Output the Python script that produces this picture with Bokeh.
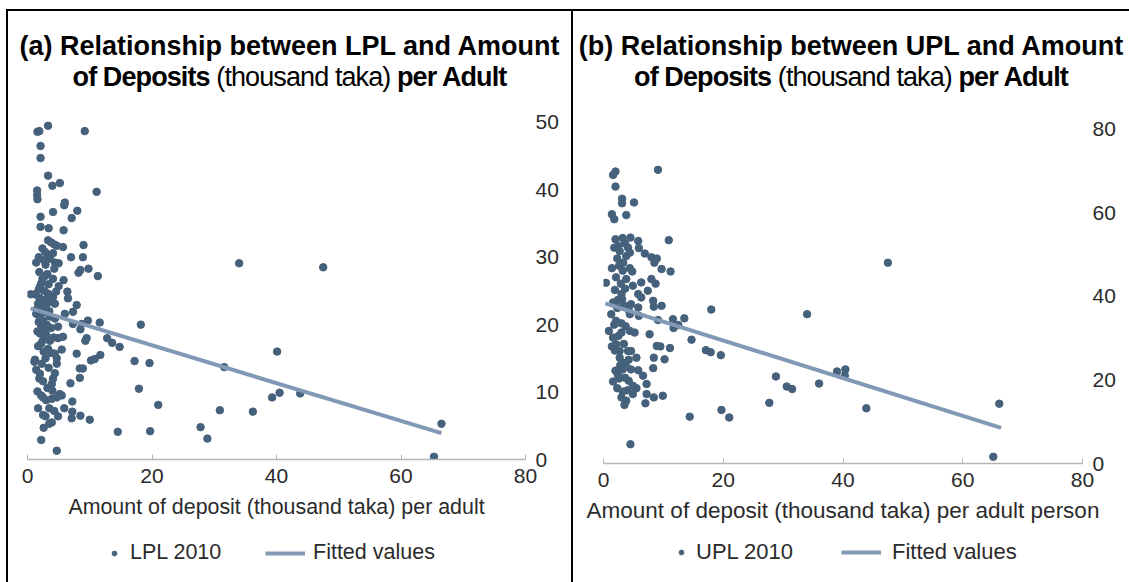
from bokeh.plotting import figure
from bokeh.models import Div, Legend, LegendItem, FixedTicker, Range1d, ColumnDataSource
from bokeh.layouts import row, column
from bokeh.embed import file_html
from bokeh.resources import INLINE

# ---------------- data ----------------
lpl_x = [3.3, 1.6, 1.9, 9.2, 2.1, 2.1, 3.3, 4.0, 5.2, 11.1, 1.55, 1.55, 1.6, 6.0, 5.9, 8.0, 4.1, 2.1, 7.1, 2.1,
         3.4, 5.8, 3.3, 3.8, 4.3, 4.7, 9.0, 5.7, 2.4, 2.8, 3.3, 4.1, 7.0, 8.9, 1.4, 2.9, 4.4, 5.0, 4.3, 8.5,
         8.2, 9.8, 11.3, 2.8, 4.1, 5.8, 2.2, 2.0, 1.8, 5.0, 4.6, 6.4, 6.5, 0.5, 1.2, 4.1, 3.8, 4.4, 1.7, 2.1,
         2.5, 3.0, 7.9, 7.3, 6.0, 1.4, 2.0, 2.5, 2.2, 2.8, 3.6, 4.4, 4.9, 7.3, 8.7, 9.7, 8.5, 11.6, 18.2, 2.0,
         2.5, 2.2, 4.2, 4.9, 5.7, 9.5, 9.3, 12.8, 13.6, 14.8, 3.3, 4.4, 5.5, 7.9, 10.2, 10.8, 11.7, 1.2, 1.1, 2.9,
         4.7, 4.7, 17.2, 19.6, 40.1, 1.4, 2.0, 2.5, 4.4, 4.1, 3.9, 8.4, 8.9, 8.4, 6.9, 31.6, 17.9, 1.6, 2.5, 3.0,
         3.9, 4.7, 5.5, 5.2, 7.2, 5.9, 7.2, 8.5, 1.7, 2.5, 2.9, 4.9, 3.9, 3.5, 7.1, 10.0, 21.0, 30.9, 36.2, 39.3,
         40.5, 2.6, 14.5, 19.7, 27.8, 28.9, 2.2, 4.7, 34.0, 47.5, 43.8, 65.3, 66.5,
         1.8, 2.6, 3.6, 1.9, 3.2, 2.4, 3.4, 2.7, 3.3, 1.9, 2.9, 1.5, 3.5, 2.6, 1.8, 3.1, 3.8, 1.6, 3.0, 3.6,
         1.7, 2.6, 3.8, 2.3, 3.4, 1.9, 3.2, 4.0, 2.2, 3.5, 4.3]
lpl_y = [49.5, 48.6, 48.7, 48.7, 46.5, 44.7, 42.1, 40.6, 41.0, 39.7, 39.9, 39.2, 38.6, 38.1, 37.7, 36.9, 36.7, 36.0, 35.8, 34.5,
         34.3, 34.0, 32.5, 32.2, 31.9, 31.7, 31.8, 31.5, 31.3, 30.8, 30.4, 30.6, 30.0, 30.0, 29.2, 28.9, 29.2, 29.1, 28.3, 28.1,
         27.7, 28.3, 27.2, 27.2, 26.8, 26.6, 26.1, 25.6, 25.2, 25.7, 24.9, 24.9, 23.9, 24.5, 24.5, 24.1, 23.4, 23.1, 23.1, 22.9,
         22.6, 22.9, 22.9, 21.9, 21.6, 21.6, 21.1, 20.6, 19.9, 19.4, 21.2, 20.9, 19.7, 20.1, 20.1, 20.6, 19.3, 20.3, 20.0, 18.7,
         17.7, 17.2, 18.1, 18.0, 18.2, 18.0, 17.6, 18.0, 17.3, 16.7, 16.4, 15.7, 16.3, 15.7, 14.7, 14.9, 15.5, 14.8, 14.5, 15.0,
         15.0, 14.2, 14.6, 14.3, 16.0, 13.3, 12.7, 11.6, 12.8, 12.0, 11.2, 13.5, 13.5, 12.1, 11.3, 13.7, 10.5, 10.1, 9.2, 8.8,
         9.0, 9.2, 9.5, 9.7, 8.6, 7.6, 7.1, 6.5, 7.6, 6.6, 6.4, 6.4, 5.5, 5.3, 6.1, 5.9, 8.1, 7.3, 7.1, 9.2,
         9.9, 4.7, 4.1, 4.2, 4.8, 3.1, 2.9, 1.3, 29.1, 28.5, 9.8, 0.4, 5.3,
         30.0, 29.6, 29.8, 27.8, 27.5, 26.8, 26.0, 25.0, 24.6, 24.0, 23.7, 22.3, 22.0, 21.8, 20.4, 20.0, 19.5, 19.0, 18.5, 17.6,
         16.8, 16.0, 15.8, 14.2, 13.6, 12.0, 10.6, 10.2, 9.5, 7.6, 7.2]
lpl_fit_x = [0.5, 66.5]
lpl_fit_y = [22.4, 3.9]

upl_x = [1.6, 2.0, 9.1, 2.0, 3.1, 3.1, 5.1, 1.4, 1.8, 3.8, 10.9, 2.0, 3.2, 4.5, 5.8, 5.9, 1.8, 2.7, 4.1, 3.8,
         4.4, 6.9, 8.0, 8.9, 8.5, 9.7, 11.2, 1.4, 2.6, 4.4, 3.2, 4.8, 0.4, 3.8, 4.9, 6.3, 8.0, 8.7, 3.0, 5.8,
         7.4, 6.3, 1.6, 2.4, 3.1, 4.6, 5.8, 4.2, 8.3, 8.4, 9.7, 18.0, 34.0, 1.3, 2.1, 4.4, 5.9, 11.6, 13.5, 12.5,
         11.7, 9.1, 0.9, 1.6, 3.0, 4.4, 5.2, 7.7, 14.7, 2.1, 2.7, 4.1, 4.6, 5.5, 8.9, 9.5, 11.1, 17.1, 17.9, 19.6,
         8.4, 10.2, 2.7, 3.2, 3.8, 2.0, 3.2, 4.6, 5.8, 6.6, 8.3, 1.6, 2.6, 7.2, 4.9, 5.5, 7.2, 8.4, 9.9, 3.0,
         3.8, 3.5, 4.9, 7.0, 28.8, 30.6, 31.5, 36.0, 39.0, 40.4, 40.3, 27.7, 19.7, 21.0, 14.4, 43.9, 4.5, 47.5, 66.1, 65.1,
         2.5, 3.6, 2.3, 3.3, 2.1, 2.9, 1.9, 3.6, 2.3, 3.4, 1.8, 3.0, 3.7, 2.5, 1.4, 3.4, 1.9, 2.8, 4.2, 2.4,
         3.6, 4.2, 2.3, 3.2, 4.0]
upl_y = [69.0, 69.8, 70.2, 66.2, 63.3, 62.2, 62.4, 59.6, 58.4, 59.4, 53.4, 53.6, 53.9, 54.0, 53.2, 51.5, 51.6, 50.8, 51.6, 49.6,
         50.4, 50.2, 49.3, 49.0, 48.0, 46.5, 45.9, 46.7, 47.3, 46.7, 46.1, 45.9, 43.2, 44.1, 42.5, 43.3, 44.1, 43.0, 40.5, 40.5,
         41.3, 39.7, 38.5, 39.1, 39.3, 38.1, 37.3, 36.7, 38.9, 37.5, 37.7, 36.8, 35.7, 35.7, 34.1, 35.7, 35.3, 34.5, 34.7, 33.1,
         32.4, 34.3, 31.7, 30.1, 31.3, 31.7, 31.3, 30.9, 29.6, 28.5, 26.9, 26.9, 26.9, 25.3, 28.1, 28.0, 27.6, 27.1, 26.6, 25.9,
         25.3, 24.9, 25.3, 24.1, 23.1, 22.2, 22.5, 22.5, 22.3, 21.0, 22.8, 19.6, 20.3, 19.0, 18.6, 18.0, 16.6, 15.8, 16.2, 15.8,
         15.0, 14.0, 16.6, 14.4, 20.8, 18.4, 17.8, 19.1, 22.0, 22.5, 21.0, 14.5, 12.8, 11.0, 11.2, 13.2, 4.6, 48.0, 14.3, 1.6,
         52.0, 52.6, 49.0, 48.0, 44.5, 43.0, 41.5, 41.8, 37.2, 37.8, 33.2, 33.5, 32.8, 30.5, 28.0, 28.6, 27.0, 23.5, 24.8, 21.2,
         20.5, 19.8, 18.0, 17.2, 17.5]
upl_fit_x = [0.3, 66.4]
upl_fit_y = [38.3, 8.5]

x_ticks = [0, 20, 40, 60, 80]
lpl_ticks = [0, 10, 20, 30, 40, 50]
upl_ticks = [0, 20, 40, 60, 80]

DOT = "#46617c"
FIT = "#8199b4"
FONT = "Liberation Sans"
TXT = "#2b2b2b"

TITLE_H = 89
MAIN_H = 430
LEG_H = 52
NAN = float("nan")


def make_panel(title_html, xs, ys, fx, fy, yticks, yend, xlabel, xlabel_size, xlabel_standoff, series_name,
               width, bl, br, bt, bb, leg_dot_x, leg_dot_standoff, leg_line_x, leg_line_standoff, leg_font):
    p = figure(width=width, height=MAIN_H, output_backend="svg", toolbar_location=None,
               x_range=Range1d(0, 80), y_range=Range1d(0, yend), y_axis_location="right",
               min_border_left=bl, min_border_right=br, min_border_top=bt, min_border_bottom=bb)
    p.outline_line_color = None
    p.grid.visible = False
    p.background_fill_color = "white"
    p.border_fill_color = "white"

    src = ColumnDataSource(dict(x=xs, y=ys))
    p.scatter("x", "y", source=src, size=7.5, color=DOT, line_color=DOT)
    p.line(fx, fy, line_color=FIT, line_width=4)

    xa = p.xaxis[0]
    xa.ticker = FixedTicker(ticks=x_ticks)
    xa.axis_line_color = "#b5b5b5"
    xa.axis_line_width = 1.5
    xa.major_tick_in = 5
    xa.major_tick_out = 0
    xa.major_tick_line_color = "#b5b5b5"
    xa.minor_tick_line_color = None
    xa.major_label_text_font = FONT
    xa.major_label_text_font_size = "21px"
    xa.major_label_text_color = TXT
    xa.major_label_standoff = 9
    xa.axis_label = xlabel
    xa.axis_label_text_font = FONT
    xa.axis_label_text_font_style = "normal"
    xa.axis_label_text_font_size = xlabel_size
    xa.axis_label_text_color = TXT
    xa.axis_label_standoff = xlabel_standoff

    ya = p.yaxis[0]
    ya.ticker = FixedTicker(ticks=yticks)
    ya.axis_line_color = None
    ya.major_tick_line_color = None
    ya.major_tick_in = 0
    ya.major_tick_out = 0
    ya.minor_tick_line_color = None
    ya.minor_tick_in = 0
    ya.minor_tick_out = 0
    ya.major_label_text_font = FONT
    ya.major_label_text_font_size = "21px"
    ya.major_label_text_color = TXT
    ya.major_label_standoff = 10

    # legend strip below the plot (keys only, nothing drawn in its frame)
    lg = figure(width=width, height=LEG_H, output_backend="svg", toolbar_location=None,
                x_range=Range1d(0, 1), y_range=Range1d(0, 1),
                x_axis_location=None, y_axis_location=None,
                min_border_left=0, min_border_right=0, min_border_top=0, min_border_bottom=0)
    lg.outline_line_color = None
    lg.grid.visible = False
    dots_k = lg.scatter(x=[NAN], y=[NAN], size=7.5, color=DOT, line_color=DOT)
    fit_k = lg.line(x=[NAN], y=[NAN], line_color=FIT, line_width=4)
    common = dict(orientation="horizontal", border_line_color=None, background_fill_alpha=0,
                  padding=0, margin=0, label_text_font=FONT, label_text_font_size=leg_font,
                  label_text_color=TXT, glyph_height=20, label_text_baseline="middle")
    l1 = Legend(items=[LegendItem(label=series_name, renderers=[dots_k])],
                location=(leg_dot_x, 17), glyph_width=12, label_standoff=leg_dot_standoff, **common)
    l2 = Legend(items=[LegendItem(label="Fitted values", renderers=[fit_k])],
                location=(leg_line_x, 17), glyph_width=40, label_standoff=leg_line_standoff, **common)
    lg.add_layout(l1)
    lg.add_layout(l2)

    title = Div(text=title_html(width), width=width, height=TITLE_H, margin=0)
    return column(title, p, lg, spacing=0)


def title(line1, bold2a, normal2, bold2b):
    def html(w):
        st = (f"width:{w}px;font-family:'Liberation Sans',Arial,sans-serif;font-size:27px;line-height:31px;"
              "color:#000;text-align:center;white-space:nowrap;padding-top:20px;")
        return (f'<div style="{st}"><b>{line1}</b><br><span style="letter-spacing:-0.9px">'
                f'<b>{bold2a}</b> {normal2} <b>{bold2b}</b></span></div>')
    return html


pa = make_panel(title("(a) Relationship between LPL and Amount", "of Deposits", "(thousand taka)", "per Adult"),
                lpl_x, lpl_y, lpl_fit_x, lpl_fit_y, lpl_ticks, 52.5,
                "Amount of deposit (thousand taka) per adult", "21.4px", 9, "LPL 2010",
                563, 19, 46, 5, 71, 81, 10, 238, 8, "21.5px")
pb = make_panel(title("(b) Relationship between UPL and Amount", "of Deposits", "(thousand taka)", "per Adult"),
                upl_x, upl_y, upl_fit_x, upl_fit_y, upl_ticks, 82,
                "Amount of deposit (thousand taka) per adult person", "22.5px", 8, "UPL 2010",
                556, 30, 47, 20, 67, 72, 9, 238, 11, "22px")


def vbar(h):
    return Div(text="", width=2, height=h, margin=0, styles={"background-color": "black"})


def hbar(w):
    return Div(text="", width=w, height=2, margin=0, styles={"background-color": "black"})


H = 2 + TITLE_H + MAIN_H + LEG_H
layout = row(vbar(H), column(hbar(563), pa, spacing=0), vbar(H), column(hbar(556), pb, spacing=0),
             spacing=0, margin=(9, 0, 0, 6))

open("out.html", "w").write(file_html(layout, INLINE))
